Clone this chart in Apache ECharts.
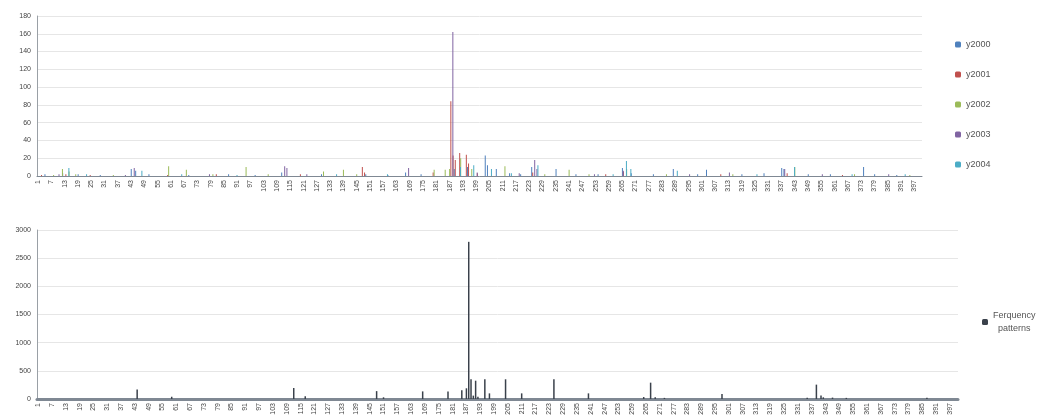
<!DOCTYPE html>
<html>
<head>
<meta charset="utf-8">
<script src="https://cdn.jsdelivr.net/npm/echarts@6/dist/echarts.min.js"></script>
<style>
  html, body { margin: 0; padding: 0; background: #fff; }
  #main { width: 1045px; height: 418px; }
</style>
</head>
<body>
<div id="main"></div>
<script>
// categories 1..400 (pattern index)
var categories = [];
for (var i = 1; i <= 400; i++) categories.push(String(i));

// top chart: [pattern, count] pairs, everything not listed is 0
var y2000 = [[5,2],[13,3],[20,2],[30,1],[44,8],[46,6],[52,2],[70,1],[88,2],[100,1],[112,4],[130,2],[150,2],[160,1],
  [168,4],[175,2],[190,8],[196,10],[204,23],[205,12],[209,8],[215,3],[220,2],[225,10],[236,8],[245,2],[255,2],
  [266,9],[270,3],[280,2],[289,8],[300,2],[304,7],[320,2],[330,3],[338,9],[339,8],[350,2],[360,2],[375,10],[380,2],[390,1]];
var y2001 = [[3,1],[14,2],[25,1],[60,1],[82,2],[120,2],[148,10],[149,4],[180,4],[188,84],[189,23],[190,18],[192,26],
  [195,24],[196,14],[200,3],[225,4],[258,2],[266,5],[310,2],[340,3],[365,1]];
var y2002 = [[8,1],[12,8],[15,5],[18,2],[35,1],[60,11],[68,7],[80,2],[95,10],[105,2],[130,5],[139,7],[145,2],[180,7],
  [185,7],[187,8],[192,20],[197,8],[212,11],[230,2],[241,7],[250,2],[267,8],[285,2],[315,2],[343,10],[370,2],[395,1]];
var y2003 = [[10,2],[40,1],[44,9],[78,2],[112,11],[113,9],[122,2],[168,9],[188,162],[199,4],[218,3],[225,18],
  [226,8],[252,2],[265,6],[295,2],[313,4],[338,8],[355,2],[385,2]];
var y2004 = [[14,9],[22,2],[47,6],[65,2],[90,1],[135,2],[158,2],[191,10],[197,12],[205,8],[214,3],[226,12],[260,2],
  [266,17],[268,8],[289,6],[325,2],[342,10],[368,2],[392,2]];

// bottom chart: frequency patterns
var freq = [[44,170],[59,40],[112,195],[117,50],[148,140],[151,30],[168,135],[179,135],[185,155],[187,190],[188,2790],
  [189,350],[190,60],[191,325],[192,40],[195,350],[197,100],[204,350],[211,100],[225,350],[240,100],[264,35],[267,290],
  [269,30],[273,20],[298,90],[335,20],[339,255],[341,60],[342,30],[346,25],[352,20],[387,20]];

var topNames = ['y2000', 'y2001', 'y2002', 'y2003', 'y2004'];
var topData = [y2000, y2001, y2002, y2003, y2004];
var topColors = ['#4F81BD', '#C0504D', '#9BBB59', '#8064A2', '#4BACC6'];

var font = 'Liberation Sans';

function toPairs(arr) {
  return arr.map(function (p) { return [String(p[0]), p[1]]; });
}

function xAxisOf(grid, lineWidth) {
  return {
    type: 'category',
    gridIndex: grid,
    data: categories,
    axisLine: { lineStyle: { color: '#7f8893', width: lineWidth } },
    axisTick: { show: false },
    axisLabel: { interval: 5, rotate: 90, fontSize: 7, color: '#444', fontFamily: font, margin: 4 }
  };
}

function yAxisOf(grid, max, interval) {
  return {
    type: 'value',
    gridIndex: grid,
    min: 0, max: max, interval: interval,
    axisLine: { show: true, lineStyle: { color: '#9aa0a6' } },
    axisTick: { show: false },
    axisLabel: { fontSize: 7, color: '#444', fontFamily: font, margin: 6,
      formatter: function (v) { return String(v); } },
    splitLine: { lineStyle: { color: '#e6e6e6' } }
  };
}

var series = topNames.map(function (n, k) {
  return {
    name: n, type: 'bar', xAxisIndex: 0, yAxisIndex: 0,
    barWidth: 1, barGap: '0%',
    itemStyle: { color: topColors[k] },
    data: toPairs(topData[k])
  };
});
series.push({
  name: 'Ferquency patterns', type: 'bar', xAxisIndex: 1, yAxisIndex: 1,
  barWidth: 1.5,
  itemStyle: { color: '#3a414b' },
  data: toPairs(freq)
});

var chart = echarts.init(document.getElementById('main'));
chart.setOption({
  animation: false,
  textStyle: { fontFamily: font },
  grid: [
    { left: 37, top: 16, right: 123, height: 160 },
    { left: 37, top: 230, right: 87, height: 169 }
  ],
  legend: [
    {
      data: topNames, orient: 'vertical', left: 950, top: 35,
      itemWidth: 6, itemHeight: 6, itemGap: 21,
      textStyle: { fontSize: 9, color: '#555', fontFamily: font }
    },
    {
      data: ['Ferquency patterns'], orient: 'vertical', left: 977, top: 304,
      itemWidth: 6, itemHeight: 6,
      formatter: function (n) { return n.replace(' ', '\n  '); },
      textStyle: { fontSize: 9, color: '#555', fontFamily: font, lineHeight: 13 }
    }
  ],
  xAxis: [xAxisOf(0, 1), xAxisOf(1, 3)],
  yAxis: [yAxisOf(0, 180, 20), yAxisOf(1, 3000, 500)],
  series: series
});
</script>
</body>
</html>
